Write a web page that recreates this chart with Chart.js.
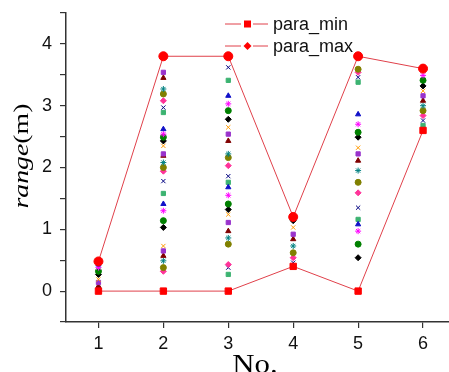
<!DOCTYPE html>
<html>
<head>
<meta charset="utf-8">
<script src="https://cdn.jsdelivr.net/npm/chart.js@4.4.0/dist/chart.umd.min.js"></script>
<style>
  html, body { margin: 0; padding: 0; background: #fff; }
  canvas { display: block; }
</style>
</head>
<body>
<canvas id="rangeChart" width="449" height="372"></canvas>
<script>
// x positions
const nums = [1, 2, 3, 4, 5, 6];
const paraMin = [0, 0, 0, 0.4, 0, 2.6];
const paraMax = [0.48, 3.8, 3.8, 1.2, 3.8, 3.6];

// sample values per column
const col1 = [0.43, 0.38, 0.32, 0.27, 0.19, 0.14, 0.08];
const col2 = [3.54, 3.45, 3.27, 3.19, 3.08, 2.97, 2.89, 2.62, 2.54, 2.49, 2.43, 2.35, 2.22, 2.19, 2.08,
              2.0, 1.94, 1.78, 1.58, 1.41, 1.30, 1.14, 1.03, 0.73, 0.65, 0.57, 0.49, 0.38, 0.32];
const col3 = [3.62, 3.41, 3.16, 3.03, 2.92, 2.78, 2.65, 2.54, 2.43, 2.22, 2.16, 2.03, 1.86, 1.76, 1.68,
              1.55, 1.41, 1.32, 1.24, 1.11, 0.97, 0.86, 0.76, 0.43, 0.38, 0.27];
const col4 = [1.14, 1.03, 0.92, 0.84, 0.73, 0.62, 0.54, 0.46];
const col5 = [3.59, 3.54, 3.46, 3.38, 2.86, 2.70, 2.57, 2.49, 2.32, 2.22, 2.11, 1.95, 1.76, 1.59, 1.35,
              1.16, 1.08, 0.97, 0.76, 0.54];
const col6 = [3.49, 3.41, 3.32, 3.24, 3.16, 3.08, 3.0, 2.92, 2.84, 2.76, 2.68];
const columns = [col1, col2, col3, col4, col5, col6];

const yTicks = [-0.5, 0, 0.5, 1, 1.5, 2, 2.5, 3, 3.5, 4, 4.5];

const markColors = ['#1010c8', '#ff00ff', '#008000', '#000000', '#ff9900', '#9933cc',
                    '#800000', '#008080', '#808000', '#ff3399', '#000080', '#3cb371'];
const markStyles = ['triangle', 'star', 'circle', 'rectRot', 'crossRot', 'rect'];

// spread the samples over a dozen coloured series
const series = markColors.map(() => []);
columns.forEach((col, c) => {
    col.forEach((v, i) => {
        series[(i + c * 5) % series.length].push({ x: nums[c], y: v });
    });
});

const datasets = series.map((pts, k) => ({
    data: pts,
    showLine: false,
    pointStyle: markStyles[k % markStyles.length],
    pointRadius: 3,
    backgroundColor: markColors[k],
    borderColor: markColors[k],
    borderWidth: 1,
    order: 2
}));

datasets.push({
    label: 'para_min',
    data: nums.map((x, i) => ({ x: x, y: paraMin[i] })),
    showLine: true,
    borderColor: '#e0404a',
    borderWidth: 1,
    pointStyle: 'rect',
    pointRadius: 4.5,
    pointBackgroundColor: '#ff0000',
    pointBorderColor: '#ff0000',
    order: 0
});
datasets.push({
    label: 'para_max',
    data: nums.map((x, i) => ({ x: x, y: paraMax[i] })),
    showLine: true,
    borderColor: '#e0404a',
    borderWidth: 1,
    pointStyle: 'circle',
    pointRadius: 4.5,
    pointBackgroundColor: '#ff0000',
    pointBorderColor: '#ff0000',
    order: 0
});

// legend and axis titles drawn by hand (mixed italic title, line+marker legend)
const decorations = {
    id: 'decorations',
    afterDraw(chart) {
        const ctx = chart.ctx;
        ctx.save();

        // legend
        const rows = [
            { label: 'para_min', y: 24, style: 'rect' },
            { label: 'para_max', y: 46, style: 'diamond' }
        ];
        rows.forEach(r => {
            ctx.strokeStyle = '#e0404a';
            ctx.lineWidth = 1;
            ctx.beginPath();
            ctx.moveTo(225, r.y); ctx.lineTo(241, r.y);
            ctx.moveTo(253, r.y); ctx.lineTo(268, r.y);
            ctx.stroke();
            ctx.fillStyle = '#ff0000';
            if (r.style === 'rect') {
                ctx.fillRect(244, r.y - 3.5, 7, 7);
            } else {
                ctx.beginPath();
                ctx.moveTo(247.5, r.y - 4); ctx.lineTo(251.5, r.y);
                ctx.lineTo(247.5, r.y + 4); ctx.lineTo(243.5, r.y);
                ctx.closePath();
                ctx.fill();
            }
            ctx.fillStyle = '#111';
            ctx.font = '18px "Liberation Sans", Arial, sans-serif';
            ctx.textBaseline = 'middle';
            ctx.textAlign = 'left';
            ctx.fillText(r.label, 273, r.y + 1);
        });

        // y title: italic "range" + upright "(m)"
        ctx.translate(28, 156);
        ctx.rotate(-Math.PI / 2);
        const fIt = 'italic 22px "Liberation Serif", "Times New Roman", serif';
        const fUp = '22px "Liberation Serif", "Times New Roman", serif';
        ctx.font = fIt;
        const w1 = ctx.measureText('range').width;
        ctx.font = fUp;
        const w2 = ctx.measureText('(m)').width;
        const sx = 105 / (w1 + w2);
        ctx.scale(sx, 1);
        ctx.fillStyle = '#000';
        ctx.textBaseline = 'alphabetic';
        ctx.textAlign = 'left';
        const start = -(w1 + w2) / 2;
        ctx.font = fIt;
        ctx.fillText('range', start, 0);
        ctx.font = fUp;
        ctx.fillText('(m)', start + w1, 0);
        ctx.restore();

        // x title, partly cut by the bottom edge
        ctx.save();
        ctx.fillStyle = '#000';
        ctx.font = '28px "Liberation Serif", "Times New Roman", serif';
        ctx.textAlign = 'center';
        ctx.textBaseline = 'alphabetic';
        ctx.translate(255, 373);
        ctx.scale(1.1, 1);
        ctx.fillText('No.', 0, 0);
        ctx.restore();
    }
};

new Chart(document.getElementById('rangeChart'), {
    type: 'scatter',
    data: { datasets: datasets },
    options: {
        responsive: false,
        animation: false,
        layout: { autoPadding: false, padding: { top: 13, right: 0, left: 0, bottom: 0 } },
        plugins: {
            legend: { display: false },
            tooltip: { enabled: false }
        },
        scales: {
            x: {
                type: 'linear',
                min: 0.5,
                max: 6.4,
                afterFit(scale) {
                    scale.height = 50;
                    scale.paddingLeft = 0;
                    scale.paddingRight = 0;
                },
                afterBuildTicks(scale) { scale.ticks = nums.map(v => ({ value: v })); },
                grid: { drawOnChartArea: false, drawTicks: true, tickLength: 6, color: '#333', lineWidth: 1.2 },
                border: { display: true, color: '#333', width: 1.5 },
                ticks: {
                    padding: 5,
                    color: '#111',
                    font: { family: '"Liberation Sans", Arial, sans-serif', size: 18 }
                }
            },
            y: {
                type: 'linear',
                min: -0.5,
                max: 4.5,
                afterFit(scale) {
                    scale.width = 66;
                    scale.paddingTop = 0;
                    scale.paddingBottom = 0;
                },
                afterBuildTicks(scale) { scale.ticks = yTicks.map(v => ({ value: v })); },
                grid: { drawOnChartArea: false, drawTicks: true, tickLength: 6, color: '#333', lineWidth: 1.2 },
                border: { display: true, color: '#333', width: 1.5 },
                ticks: {
                    padding: 8,
                    color: '#111',
                    font: { family: '"Liberation Sans", Arial, sans-serif', size: 18 },
                    callback: v => Number.isInteger(v) ? String(v) : ''
                }
            }
        }
    },
    plugins: [decorations]
});
</script>
</body>
</html>
